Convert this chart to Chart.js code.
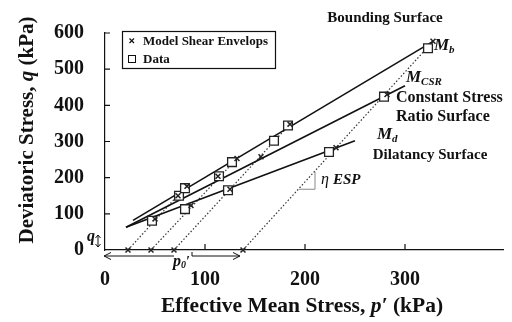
<!DOCTYPE html>
<html>
<head>
<meta charset="utf-8">
<script src="https://cdn.jsdelivr.net/npm/chart.js@4/dist/chart.umd.min.js"></script>
<style>
  html, body { margin: 0; padding: 0; background: #fff; }
</style>
</head>
<body>
<canvas id="chart" width="512" height="322"></canvas>
<script>
/* global document, Chart */

// Data (open squares): p' and q in kPa
const dataP = [47, 80, 74, 80, 114, 123, 127, 169, 183, 224, 279, 323];
const dataQ = [81, 113, 150, 171, 204, 165, 243, 302, 344, 271, 424, 558];

// Model shear envelope points (crosses)
const modelP = [23, 46, 69, 138, 50, 86, 73, 82, 113, 125, 132, 156, 185, 231, 282, 328];
const modelQ = [0, 0, 0, 0, 86, 123, 150, 176, 204, 168, 253, 258, 348, 283, 430, 577];

// Surfaces, start and end points
const boundingP = [28, 328];
const boundingQ = [82, 577];
const csrP = [21, 300];
const csrQ = [63, 454];
const dilatancyP = [21, 250];
const dilatancyQ = [63, 302];

// Effective stress paths: from p0' on the axis up to the bounding surface
const espStartP = [23, 46, 69, 138];
const espEndP = [81, 132, 185, 328];
const espEndQ = [176, 253, 348, 577];

// Slope triangle next to "η ESP"
const triP = [194, 210, 210];
const triQ = [168, 168, 216];

const xTicks = [0, 100, 200, 300];
const yTicks = [0, 100, 200, 300, 400, 500, 600];

const toXY = (ps, qs) => ps.map((p, i) => ({x: p, y: qs[i]}));

const black = "#111111";
const serif = "'Liberation Serif', 'Times New Roman', serif";

Chart.defaults.font.family = serif;
Chart.defaults.font.weight = "bold";
Chart.defaults.font.size = 20;
Chart.defaults.color = black;

const lineSet = (ps, qs) => ({
  data: toXY(ps, qs),
  showLine: true,
  borderColor: black,
  borderWidth: 1.6,
  pointRadius: 0,
  clip: false
});

const espSets = espStartP.map((p0, i) => ({
  data: [{x: p0, y: 0}, {x: espEndP[i], y: espEndQ[i]}],
  showLine: true,
  borderColor: "#333",
  borderWidth: 1.2,
  borderDash: [1.5, 2],
  pointRadius: 0,
  clip: false
}));

// draw a row of text pieces with different fonts
function drawRuns(ctx, runs, x, y, align) {
  let total = 0;
  runs.forEach(r => { ctx.font = r.f; r.w = ctx.measureText(r.t).width; total += r.w; });
  let cx = align === "center" ? x - total / 2 : x;
  ctx.textAlign = "left";
  ctx.textBaseline = "alphabetic";
  runs.forEach(r => {
    ctx.font = r.f;
    ctx.fillText(r.t, cx, y + (r.dy || 0));
    cx += r.w;
  });
}

function arrowHead(ctx, x, y, dir) {
  ctx.beginPath();
  ctx.moveTo(x + dir * 7, y - 3.5);
  ctx.lineTo(x, y);
  ctx.lineTo(x + dir * 7, y + 3.5);
  ctx.stroke();
}

const extras = {
  id: "extras",
  afterDraw(chart) {
    const {ctx, scales: {x, y}} = chart;
    const px = v => x.getPixelForValue(v);
    const py = v => y.getPixelForValue(v);
    const b = "bold ";
    const bi = "italic bold ";
    ctx.save();
    ctx.fillStyle = black;
    ctx.strokeStyle = black;
    ctx.lineWidth = 1.2;

    // inward tick marks
    ctx.beginPath();
    yTicks.slice(1).forEach(v => { ctx.moveTo(px(0), py(v)); ctx.lineTo(px(0) + 5, py(v)); });
    xTicks.slice(1).forEach(v => { ctx.moveTo(px(v), py(0)); ctx.lineTo(px(v), py(0) - 6); });
    ctx.stroke();

    // axis titles
    drawRuns(ctx, [
      {t: "Effective Mean Stress, ", f: b + "21.5px " + serif},
      {t: "p\u2032", f: bi + "21.5px " + serif},
      {t: " (kPa)", f: b + "21.5px " + serif}
    ], 302, 312, "center");
    ctx.save();
    ctx.translate(33, 130);
    ctx.rotate(-Math.PI / 2);
    drawRuns(ctx, [
      {t: "Deviatoric Stress, ", f: b + "21px " + serif},
      {t: "q", f: bi + "21px " + serif},
      {t: " (kPa)", f: b + "21px " + serif}
    ], 0, 0, "center");
    ctx.restore();

    // surface labels
    drawRuns(ctx, [{t: "Bounding Surface", f: b + "15px " + serif}], 385, 22, "center");
    drawRuns(ctx, [
      {t: "M", f: bi + "17px " + serif},
      {t: "b", f: bi + "11px " + serif, dy: 3}
    ], 434, 50);
    drawRuns(ctx, [
      {t: "M", f: bi + "17px " + serif},
      {t: "CSR", f: bi + "11px " + serif, dy: 3}
    ], 406, 82);
    drawRuns(ctx, [{t: "Constant Stress", f: b + "16px " + serif}], 396, 102);
    drawRuns(ctx, [{t: "Ratio Surface", f: b + "16px " + serif}], 396, 121);
    drawRuns(ctx, [
      {t: "M", f: bi + "17px " + serif},
      {t: "d", f: bi + "11px " + serif, dy: 3}
    ], 377, 139);
    drawRuns(ctx, [{t: "Dilatancy Surface", f: b + "15px " + serif}], 430, 159, "center");
    drawRuns(ctx, [
      {t: "\u03b7 ", f: "italic 16px " + serif},
      {t: "ESP", f: bi + "15px " + serif}
    ], 321, 184);

    // p0' arrows below the axis
    const ay = py(0) + 6;
    ctx.lineWidth = 1;
    ctx.beginPath();
    ctx.moveTo(px(69), ay); ctx.lineTo(px(-1), ay);
    ctx.moveTo(px(87), ay - 4); ctx.lineTo(px(87), ay); ctx.lineTo(px(135), ay);
    ctx.stroke();
    arrowHead(ctx, px(-1), ay, 1);
    arrowHead(ctx, px(135), ay, -1);
    drawRuns(ctx, [
      {t: "p", f: bi + "16px " + serif},
      {t: "0", f: bi + "10px " + serif, dy: 2},
      {t: "\u2032", f: bi + "14px " + serif}
    ], 173, 266);

    // q arrow next to the origin
    const qx = px(0) - 7;
    ctx.beginPath();
    ctx.moveTo(qx, py(0) - 15); ctx.lineTo(qx, py(0) - 3);
    ctx.moveTo(qx - 2.5, py(0) - 12); ctx.lineTo(qx, py(0) - 15); ctx.lineTo(qx + 2.5, py(0) - 12);
    ctx.moveTo(qx - 2.5, py(0) - 6); ctx.lineTo(qx, py(0) - 3); ctx.lineTo(qx + 2.5, py(0) - 6);
    ctx.stroke();
    drawRuns(ctx, [{t: "q", f: bi + "16px " + serif}], 87, 241);

    // legend
    ctx.lineWidth = 1.2;
    ctx.strokeRect(122.5, 31.5, 153, 37);
    ctx.beginPath();
    ctx.moveTo(129.5, 38.5); ctx.lineTo(134, 43);
    ctx.moveTo(134, 38.5); ctx.lineTo(129.5, 43);
    ctx.stroke();
    ctx.lineWidth = 1;
    ctx.strokeRect(128.5, 55.5, 7, 7);
    drawRuns(ctx, [{t: "Model Shear Envelops", f: b + "13px " + serif}], 143, 45);
    drawRuns(ctx, [{t: "Data", f: b + "13px " + serif}], 143, 63);
    ctx.restore();
  }
};

new Chart(document.getElementById("chart"), {
  type: "scatter",
  data: {
    datasets: [
      {
        data: toXY(modelP, modelQ),
        pointStyle: "crossRot",
        pointRadius: 3.5,
        borderColor: "#222",
        borderWidth: 1.5,
        clip: false
      },
      {
        data: toXY(dataP, dataQ),
        pointStyle: "rect",
        pointRadius: 6.2,
        borderColor: "#222",
        backgroundColor: "#ffffff",
        borderWidth: 1.3,
        clip: false
      },
      lineSet(boundingP, boundingQ),
      lineSet(csrP, csrQ),
      lineSet(dilatancyP, dilatancyQ),
      ...espSets,
      {
        data: toXY(triP, triQ),
        showLine: true,
        borderColor: "#888",
        borderWidth: 1,
        pointRadius: 0
      }
    ]
  },
  options: {
    responsive: false,
    animation: false,
    devicePixelRatio: 1,
    layout: {padding: {top: 20, right: 9, left: 0, bottom: 0}},
    plugins: {legend: {display: false}, tooltip: {enabled: false}},
    scales: {
      x: {
        min: 0,
        max: 398,
        afterBuildTicks: s => { s.ticks = xTicks.map(v => ({value: v})); },
        afterFit: s => { s.height = 72; },
        grid: {drawOnChartArea: false, drawTicks: false},
        border: {color: black, width: 1.2},
        ticks: {padding: 18, color: black}
      },
      y: {
        min: 0,
        max: 600,
        afterBuildTicks: s => { s.ticks = yTicks.map(v => ({value: v})); },
        afterFit: s => { s.width = 105; },
        grid: {drawOnChartArea: false, drawTicks: false},
        border: {color: black, width: 1.2},
        ticks: {padding: 21, color: black}
      }
    }
  },
  plugins: [extras]
});
</script>
</body>
</html>
